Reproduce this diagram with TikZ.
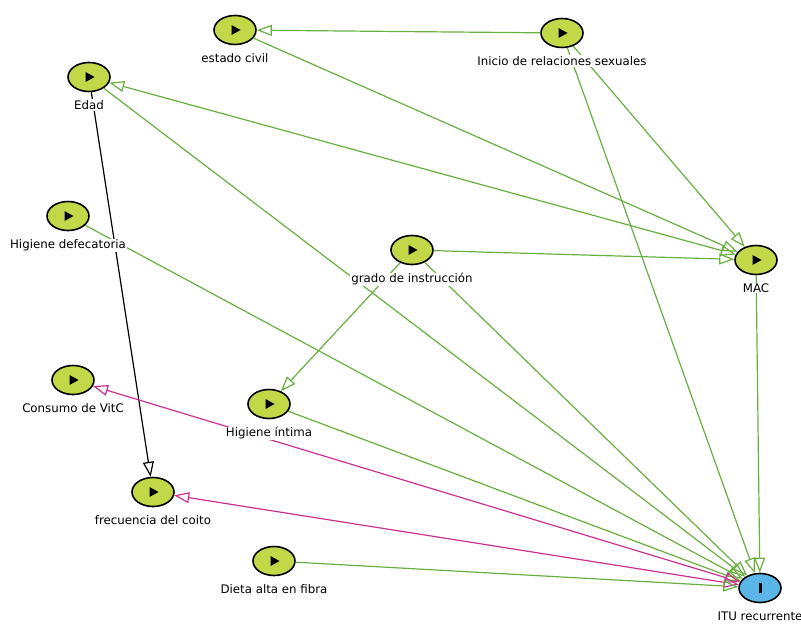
\documentclass[tikz,border=0pt]{standalone}
\usepackage{fontspec}
\setmainfont{DejaVu Sans}
\usepackage{xcolor}
\usepackage{tikz}
\usetikzlibrary{shapes.geometric, arrows.meta, positioning}

\definecolor{expofill}{RGB}{195,216,72}
\definecolor{outfill}{RGB}{90,182,230}
\definecolor{causal}{RGB}{104,176,64}
\definecolor{biasing}{RGB}{206,48,146}

\tikzset{
  var/.style={ellipse, draw=black, line width=1.6pt, minimum width=42pt, minimum height=29pt, inner sep=0pt},
  expo/.style={var, fill=expofill, path picture={
      \fill[black] ([xshift=-3.5pt,yshift=5pt]path picture bounding box.center) -- ++(9pt,-5pt) -- ++(-9pt,-5pt) -- cycle;}},
  outc/.style={var, fill=outfill, path picture={
      \fill[black] ([xshift=-1.5pt,yshift=-5pt]path picture bounding box.center) rectangle ++(3pt,10pt);}},
  lbl/.style={fill=white, inner sep=1pt, font=\fontsize{11.8}{13}\selectfont},
  tip/.style={-{Triangle[open, length=15pt, width=11pt]}},
  bitip/.style={{Triangle[open, length=15pt, width=11pt]}-{Triangle[open, length=15pt, width=11pt]}},
  causaledge/.style={tip, line width=1.2pt, draw=causal},
  biasedge/.style={bitip, line width=1.2pt, draw=biasing},
}

\begin{document}
\begin{tikzpicture}[x=1pt, y=-1pt]
    \useasboundingbox (0,0) rectangle (801,626);
    % variables
    \node[expo] (ec) at (235,30) {};
    \node[expo] (irs) at (562,33) {};
    \node[expo] (edad) at (89,77) {};
    \node[expo] (hdef) at (68,216) {};
    \node[expo] (gi) at (412,250) {};
    \node[expo] (mac) at (756,260) {};
    \node[expo] (vitc) at (73,380) {};
    \node[expo] (hint) at (269,404) {};
    \node[expo] (fc) at (153,492) {};
    \node[expo] (dieta) at (274,561) {};
    \node[outc] (itu) at (760,588) {};
    % edges
    \draw[causaledge] (irs) -- (ec);
    \draw[causaledge] (ec) -- (mac);
    \draw[causaledge] (irs) -- (mac);
    \draw[causaledge] (irs) -- (itu);
    \draw[causaledge, bitip] (edad) -- (mac);
    \draw[causaledge] (edad) -- (itu);
    \draw[tip, line width=1.2pt, black] (edad) -- (fc);
    \draw[causaledge] (hdef) -- (itu);
    \draw[causaledge] (gi) -- (mac);
    \draw[causaledge] (gi) -- (hint);
    \draw[causaledge] (gi) -- (itu);
    \draw[causaledge] (hint) -- (itu);
    \draw[biasedge] (vitc) -- (itu);
    \draw[biasedge] (fc) -- (itu);
    \draw[causaledge] (dieta) -- (itu);
    \draw[causaledge] (mac) -- (itu);
    % labels
    \node[lbl, below=7pt of ec] (ec-l) {estado civil};
    \node[lbl, below=7pt of irs] (irs-l) {Inicio de relaciones sexuales};
    \node[lbl, below=7pt of edad] (edad-l) {Edad};
    \node[lbl, below=7pt of hdef] (hdef-l) {Higiene defecatoria};
    \node[lbl, below=7pt of gi] (gi-l) {grado de instrucción};
    \node[lbl, below=7pt of mac] (mac-l) {MAC};
    \node[lbl, below=7pt of vitc] (vitc-l) {Consumo de VitC};
    \node[lbl, below=7pt of hint] (hint-l) {Higiene íntima};
    \node[lbl, below=7pt of fc] (fc-l) {frecuencia del coito};
    \node[lbl, below=7pt of dieta] (dieta-l) {Dieta alta en fibra};
    \node[lbl, below=7pt of itu] (itu-l) {ITU recurrente};
\end{tikzpicture}
\end{document}
